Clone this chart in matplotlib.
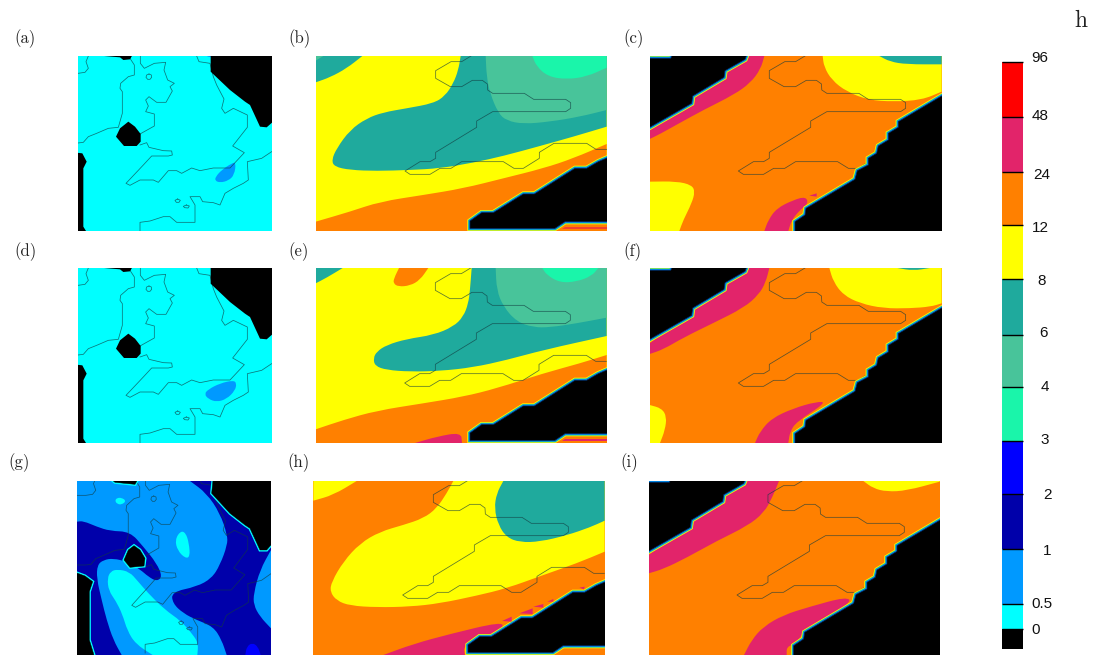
import matplotlib
matplotlib.use("Agg")
import matplotlib.pyplot as plt
from matplotlib.path import Path
from matplotlib.patches import PathPatch, Polygon
import numpy as np

W, H = 1097, 655

# shaded level colours, lowest class first
level_labels = ["0", "0.5", "1", "2", "3", "4", "6", "8", "12", "24", "48", "96"]
c_zero = "#000000"
c_05 = "#00ffff"
c_1 = "#0099ff"
c_2 = "#0000aa"
c_3 = "#0000ff"
c_4 = "#1af5aa"
c_6 = "#48c49a"
c_8 = "#1faa9d"
c_12 = "#ffff00"
c_24 = "#ff8000"
c_48 = "#e2246a"
c_96 = "#ff0000"
bar_colors = [c_zero, c_05, c_1, c_2, c_3, c_4, c_6, c_8, c_12, c_24, c_48, c_96]
bar_edges = [649, 629, 604, 549.3, 494, 441, 386.7, 334.7, 279.3, 225.3, 171.7, 116.7, 62]
label_x = [1036, 1042, 1047, 1047, 1045, 1044.6, 1043, 1042, 1040, 1042, 1040, 1040]
label_y = [630, 604, 551, 495, 440, 387, 333, 281, 228, 175, 116, 58]

# boundary lines, read in crop coordinates of panels (a) and (b)
border_a = [
    [(265, 108), (258, 125), (265, 145), (255, 157), (234, 160), (206, 160)],
    [(393, 108), (390, 115), (403, 135), (403, 165), (385, 170), (362, 190), (360, 205), (367, 215),
     (367, 280), (355, 322), (325, 325), (290, 340), (265, 350), (250, 367), (234, 369), (206, 369)],
    [(421, 108), (421, 130), (433, 145), (463, 130), (497, 127), (492, 150), (503, 180), (523, 190),
     (510, 200), (517, 213), (498, 247), (470, 247), (447, 230), (437, 240), (445, 258), (437, 275),
     (463, 282), (463, 318), (420, 342)],
    [(420, 375), (440, 368), (447, 382), (490, 392), (515, 393), (517, 405), (505, 408), (455, 408),
     (430, 435), (378, 490), (390, 496), (420, 480), (460, 480), (475, 487), (505, 452), (530, 452),
     (545, 460), (575, 444), (600, 452), (640, 444), (690, 444), (733, 398), (698, 378), (742, 322),
     (742, 285), (700, 265), (675, 280), (665, 265), (672, 237), (650, 195), (640, 170), (630, 130),
     (597, 125), (590, 108)],
    [(420, 633), (420, 607), (450, 603), (490, 590), (510, 590), (530, 607), (585, 607), (585, 555),
     (570, 530), (600, 530), (608, 545), (640, 548), (660, 555), (675, 520), (700, 505), (730, 490),
     (745, 480), (742, 425), (785, 415), (815, 395)],
    [(447, 162), (454, 165), (455, 172), (450, 178), (443, 178), (438, 172), (440, 165), (447, 162)],
    [(533, 537), (541, 541), (537, 547), (529, 547), (525, 541), (533, 537)],
    [(559, 555), (568, 558), (564, 564), (554, 563), (550, 559), (559, 555)],
]
border_b = [
    [(543, 108), (515, 125), (483, 125), (437, 152), (437, 175), (481, 200), (515, 200), (547, 181),
     (577, 181), (592, 192), (593, 210), (608, 220), (703, 220), (731, 238), (827, 238), (842, 248),
     (842, 265), (827, 275), (608, 275), (560, 303), (560, 322), (437, 397), (437, 415), (420, 425),
     (390, 425), (345, 453), (360, 463), (420, 463), (450, 445), (483, 445), (515, 425), (640, 425),
     (672, 445), (700, 445), (748, 415), (748, 397), (792, 370), (890, 370), (918, 388), (950, 388)],
]

# no-data areas
black_left = [
    [(632, 108), (632, 155), (690, 210), (735, 245), (750, 255), (780, 320), (800, 322), (816, 308), (830, 300), (830, 100), (640, 100)],
    [(310, 100), (312, 108), (360, 112), (370, 120), (390, 118), (400, 100)],
    [(385, 305), (405, 320), (422, 342), (422, 365), (410, 378), (372, 378), (348, 350), (360, 325)],
    [(220, 397), (247, 400), (260, 425), (250, 445), (250, 620), (258, 633), (258, 645), (220, 645)],
]
black_g = [
    [(640, 80), (635, 130), (690, 190), (735, 225), (750, 235), (780, 300), (800, 300), (813, 285), (825, 280), (825, 80)],
    [(330, 85), (345, 97), (405, 103), (415, 85)],
    [(402, 287), (420, 300), (435, 325), (432, 348), (390, 352), (372, 330), (385, 300)],
    [(220, 365), (255, 378), (278, 395), (268, 425), (268, 570), (285, 625), (220, 625)],
]
black_mid = [
    [(960, 410), (925, 425), (890, 445), (855, 445), (733, 522), (700, 522), (610, 578), (575, 578),
     (540, 603), (540, 625), (795, 625), (825, 605), (960, 605)],
]
black_right = [
    [(975, 222), (835, 305), (835, 322), (805, 340), (805, 360), (775, 378), (770, 400), (745, 415),
     (745, 435), (712, 452), (705, 478), (558, 565), (555, 585), (525, 605), (525, 650), (975, 650)],
    [(75, 115), (152, 115), (160, 100), (382, 100), (375, 118), (315, 152), (312, 172), (218, 228),
     (215, 250), (75, 330)],
]

# panel (a)
a_blue = [(708, 427), (695, 430), (665, 450), (647, 470), (645, 482), (660, 488), (685, 482), (703, 465)]
a_top = [(620, 108), (640, 108), (630, 112)]
# panel (d)
d_blue = [(700, 421), (660, 430), (625, 448), (613, 462), (625, 477), (650, 486), (680, 477), (705, 452), (710, 430)]
# panel (g)
g_dark1 = [(231, 215), (250, 213), (290, 230), (330, 243), (390, 245), (430, 290), (470, 340), (487, 380),
           (470, 394), (445, 380), (420, 358), (380, 335), (340, 325), (310, 330), (292, 345), (290, 385),
           (305, 450), (320, 510), (340, 570), (365, 615), (231, 615)]
g_dark2 = [(570, 93), (620, 130), (660, 190), (682, 255), (682, 285), (660, 345), (635, 385), (590, 410),
           (515, 426), (518, 460), (550, 490), (590, 510), (640, 530), (665, 570), (680, 615), (813, 615),
           (813, 535), (780, 500), (761, 465), (761, 430), (780, 360), (813, 300), (813, 93)]
g_cyan1 = [(350, 144), (365, 143), (379, 153), (365, 164), (352, 162), (345, 153)]
g_cyan2 = [(541, 243), (557, 248), (567, 280), (570, 320), (556, 325), (533, 302), (525, 270)]
g_cyan3 = [(352, 358), (388, 365), (413, 393), (443, 428), (493, 478), (543, 513), (578, 553), (595, 580),
           (592, 615), (458, 615), (407, 582), (382, 542), (367, 492), (347, 452), (326, 422), (322, 385), (332, 364)]
g_spot = [(757, 578), (774, 590), (782, 615), (736, 615), (740, 590)]
# panel (b)
b_orange = [(77, 605), (180, 575), (270, 545), (400, 525), (520, 505), (640, 475), (760, 445), (850, 415), (950, 372), (950, 633), (77, 633)]
b_teal1 = [(77, 187), (120, 172), (170, 145), (217, 108), (77, 108)]
b_green1 = [(77, 122), (100, 108), (77, 108)]
b_teal2 = [(512, 108), (505, 150), (490, 190), (465, 228), (430, 250), (350, 265), (280, 277), (230, 295),
           (180, 330), (140, 385), (125, 420), (133, 440), (180, 450), (260, 453), (360, 450), (450, 445),
           (550, 428), (640, 408), (750, 378), (850, 350), (950, 320), (950, 108)]
b_green2 = [(587, 108), (590, 170), (600, 220), (625, 280), (650, 302), (700, 312), (780, 305), (870, 290), (950, 270), (950, 108)]
b_mint = [(727, 108), (740, 140), (775, 170), (830, 178), (890, 170), (950, 143), (950, 108)]
b_strip = [(825, 605), (950, 605), (950, 633), (795, 633)]
b_red = [(825, 620), (950, 620), (950, 626), (815, 626)]
# panel (e)
e_orange = [(77, 568), (160, 540), (260, 512), (400, 490), (520, 470), (620, 445), (760, 400), (870, 370), (950, 345), (950, 609), (77, 609)]
e_teal1 = [(77, 130), (110, 113), (158, 84), (77, 84)]
e_orange2 = [(327, 84), (312, 115), (310, 130), (325, 140), (360, 137), (390, 120), (415, 84)]
e_teal2 = [(545, 84), (540, 150), (535, 190), (520, 230), (490, 260), (430, 285), (350, 297), (290, 315),
           (260, 335), (250, 355), (255, 378), (290, 390), (360, 395), (450, 393), (550, 382), (650, 360),
           (760, 330), (950, 288), (950, 84)]
e_green = [(617, 84), (620, 150), (640, 200), (680, 245), (730, 262), (780, 262), (860, 250), (950, 233), (950, 84)]
e_mint = [(757, 84), (770, 105), (810, 128), (860, 125), (905, 108), (925, 84)]
e_pink = [(375, 609), (440, 590), (513, 577), (516, 609)]
e_strip = [(825, 581), (950, 581), (950, 609), (795, 609)]
e_red = [(825, 597), (950, 597), (950, 604), (815, 604)]
# panel (h)
h_yellow1 = [(70, 152), (130, 135), (200, 93), (70, 93)]
h_yellow2 = [(490, 93), (470, 130), (440, 175), (400, 205), (340, 225), (270, 245), (210, 280), (160, 335),
             (125, 395), (120, 425), (140, 452), (180, 467), (260, 472), (360, 470), (450, 460), (560, 437),
             (650, 415), (760, 375), (860, 340), (944, 305), (944, 93)]
h_teal = [(640, 93), (620, 130), (613, 175), (625, 225), (650, 262), (690, 277), (750, 275), (830, 256), (900, 232), (944, 212), (944, 93)]
h_pink = [(280, 615), (370, 582), (480, 552), (635, 515), (640, 535), (600, 565), (560, 570), (520, 590), (525, 615)]
h_tri = [
    [(636, 513), (665, 500), (665, 515)],
    [(688, 490), (728, 475), (728, 492)],
    [(730, 470), (760, 462), (760, 473)],
    [(772, 455), (790, 447), (790, 455)],
    [(868, 413), (884, 410), (882, 418)],
]
# panel (c)
c_yellow1 = [(608, 108), (612, 140), (635, 180), (680, 215), (745, 240), (820, 245), (905, 240), (965, 215), (965, 108)]
c_teal = [(778, 108), (810, 125), (860, 133), (965, 133), (965, 108)]
c_yellow2 = [(89, 485), (170, 484), (215, 495), (225, 515), (215, 550), (190, 600), (178, 633), (89, 633)]
c_pink1 = [(89, 330), (385, 108), (433, 108), (422, 147), (392, 188), (342, 224), (250, 270), (170, 314), (120, 342), (89, 357)]
c_pink2 = [(433, 633), (445, 600), (470, 565), (520, 540), (557, 530), (565, 550), (540, 570), (515, 600), (505, 633)]
c_pink3 = [(568, 527), (590, 520), (590, 530)]
# panel (f)
f_yellow1 = [(628, 84), (640, 125), (670, 165), (720, 190), (790, 205), (870, 205), (932, 200), (965, 190), (965, 84)]
f_teal = [(832, 84), (880, 92), (930, 84)]
f_yellow2 = [(89, 495), (125, 505), (140, 530), (135, 570), (120, 609), (89, 609)]
f_pink1 = [(89, 310), (380, 84), (448, 84), (437, 127), (417, 163), (372, 203), (280, 249), (190, 293), (130, 328), (89, 342)]
f_pink2 = [(405, 609), (420, 575), (455, 535), (520, 505), (590, 485), (620, 487), (530, 545), (510, 575), (505, 609)]
# panel (i)
i_yellow = [(730, 93), (760, 115), (800, 125), (860, 122), (959, 95), (959, 93)]
i_pink1 = [(86, 315), (375, 93), (477, 93), (457, 142), (432, 188), (382, 228), (290, 273), (200, 323), (130, 357), (86, 370)]
i_pink2 = [(372, 615), (395, 570), (430, 530), (490, 495), (570, 470), (680, 440), (695, 458), (550, 545), (530, 580), (500, 590), (500, 615)]


def smooth(pts, lims):
    # rounded outline, points lying on the panel frame stay sharp
    pts = [np.array(p, float) for p in pts]
    n = len(pts)
    x0, x1, y0, y1 = lims

    def sharp(p):
        return abs(p[0] - x0) < 2 or abs(p[0] - x1) < 2 or abs(p[1] - y0) < 2 or abs(p[1] - y1) < 2

    start = (pts[-1] + pts[0]) / 2
    verts = [start]
    codes = [Path.MOVETO]
    for i in range(n):
        p = pts[i]
        m = (p + pts[(i + 1) % n]) / 2
        if sharp(p):
            verts += [p, m]
            codes += [Path.LINETO, Path.LINETO]
        else:
            verts += [p, m]
            codes += [Path.CURVE3, Path.CURVE3]
    verts.append(start)
    codes.append(Path.CLOSEPOLY)
    return Path(verts, codes)


def make_axes(crop_x, crop_y, lims):
    x0, x1, y0, y1 = lims
    left = crop_x + x0 / 3
    right = crop_x + x1 / 3
    top = crop_y + y0 / 3
    bottom = crop_y + y1 / 3
    ax = fig.add_axes([left / W, 1 - bottom / H, (right - left) / W, (bottom - top) / H])
    ax.set_xlim(x0, x1)
    ax.set_ylim(y1, y0)
    ax.axis("off")
    return ax


def draw_panel(crop_x, crop_y, lims, bg, layers, lines, sx, bx, by, blacks, dx, dy, edges):
    ax = make_axes(crop_x, crop_y, lims)
    ax.add_patch(Polygon([(lims[0], lims[2]), (lims[1], lims[2]), (lims[1], lims[3]), (lims[0], lims[3])], fc=bg, ec="none"))
    for color, pts in layers:
        ax.add_patch(PathPatch(smooth(pts, lims), fc=color, ec="none"))
    for line in lines:
        arr = np.array(line, float)
        ax.plot(arr[:, 0] * sx + bx, arr[:, 1] + by, color="#123c40", lw=0.55, alpha=0.7, zorder=2)
    for pts in blacks:
        arr = np.array(pts, float) + [dx, dy]
        for lw, col in edges:
            ax.add_patch(Polygon(arr, closed=True, fc="black", ec=col, lw=lw, joinstyle="miter", zorder=3))
    return ax


fig = plt.figure(figsize=(W / 100, H / 100), dpi=100)
rainbow = [(3.8, c_12), (2.8, "#20c8a0"), (1.8, "#0080e8"), (0.5, "#002050")]
none_edge = [(0, "black")]
cyan_edge = [(2.2, c_05), (0.3, "black")]

# left column
draw_panel(0, 20, (234, 816, 108, 633), c_05, [(c_1, a_blue), (c_1, a_top)], border_a, 1, 0, 0, black_left, 0, 0, none_edge)
draw_panel(0, 240, (234, 816, 84, 609), c_05, [(c_1, d_blue)], border_a, 1, 0, -24, black_left, 0, -24, none_edge)
draw_panel(0, 450, (231, 813, 93, 615), c_1,
           [(c_2, g_dark1), (c_2, g_dark2), (c_05, g_cyan1), (c_05, g_cyan2), (c_05, g_cyan3), (c_3, g_spot)],
           border_a, 0.956, 33.9, -24, black_g, 0, 0, cyan_edge)

# middle column
ax_b = draw_panel(290, 20, (77, 950, 108, 633), c_12,
                  [(c_24, b_orange), (c_8, b_teal1), (c_6, b_green1), (c_8, b_teal2), (c_6, b_green2), (c_4, b_mint)],
                  border_b, 1, 0, 0, black_mid, 0, 0, rainbow)
ax_b.add_patch(Polygon(b_strip, fc=c_24, ec="none"))
ax_b.add_patch(Polygon(b_red, fc="#f04030", ec="none"))
ax_e = draw_panel(290, 240, (77, 950, 84, 609), c_12,
                  [(c_24, e_orange), (c_8, e_teal1), (c_24, e_orange2), (c_8, e_teal2), (c_6, e_green), (c_4, e_mint), (c_48, e_pink)],
                  border_b, 1, -1, -24, black_mid, 0, -24, rainbow)
ax_e.add_patch(Polygon(e_strip, fc=c_24, ec="none"))
ax_e.add_patch(Polygon(e_red, fc=c_48, ec="none"))
ax_h = draw_panel(290, 450, (70, 944, 93, 615), c_24,
                  [(c_12, h_yellow1), (c_12, h_yellow2), (c_8, h_teal), (c_48, h_pink)],
                  border_b, 1, -7, -18, black_mid, -6, -18, rainbow)
for tri in h_tri:
    ax_h.add_patch(Polygon(tri, fc=c_48, ec="none", zorder=4))

# right column
ax_c = draw_panel(620, 20, (89, 965, 108, 633), c_24,
                  [(c_12, c_yellow1), (c_8, c_teal), (c_12, c_yellow2), (c_48, c_pink1), (c_48, c_pink2)],
                  border_b, 1.01, 6.5, 0, black_right, 0, 0, rainbow)
ax_c.add_patch(Polygon(c_pink3, fc=c_48, ec="none", zorder=4))
draw_panel(620, 240, (89, 965, 84, 609), c_24,
           [(c_12, f_yellow1), (c_8, f_teal), (c_12, f_yellow2), (c_48, f_pink1), (c_48, f_pink2)],
           border_b, 1.01, 6.5, -24, black_right, 0, -24, rainbow)
draw_panel(620, 450, (86, 959, 93, 615), c_24,
           [(c_12, i_yellow), (c_48, i_pink1), (c_48, i_pink2)],
           border_b, 1.01, 2.5, -18, black_right, -4, -18, rainbow)

# colour bar, drawn in page pixels
cax = fig.add_axes([0, 0, 1, 1], zorder=-1)
cax.set_xlim(0, W)
cax.set_ylim(H, 0)
cax.axis("off")
for i in range(len(bar_colors)):
    cax.bar(1012.5, bar_edges[i + 1] - bar_edges[i], width=20.4, bottom=bar_edges[i], color=bar_colors[i], lw=0)
cax.hlines(bar_edges[1:], 1002.3, 1022.7, color="black", lw=1)
for x, y, s in zip(label_x, label_y, level_labels):
    cax.text(x, y, s, ha="center", va="center", fontsize=11, family="Liberation Sans", color="#111111")

panel_names = ["(a)", "(b)", "(c)", "(d)", "(e)", "(f)", "(g)", "(h)", "(i)"]
name_x = [14, 288, 623, 14, 288, 623, 8, 287, 620]
name_y = [39, 39, 39, 252, 252, 252, 463, 463, 463]
for x, y, s in zip(name_x, name_y, panel_names):
    cax.text(x, y, s, ha="left", va="center", fontsize=12, family="cmr10", color="#222222")
cax.text(1080.5, 21, "h", ha="center", va="center", fontsize=17, family="cmr10", color="#222222")

plt.savefig("out.png", dpi=100)
